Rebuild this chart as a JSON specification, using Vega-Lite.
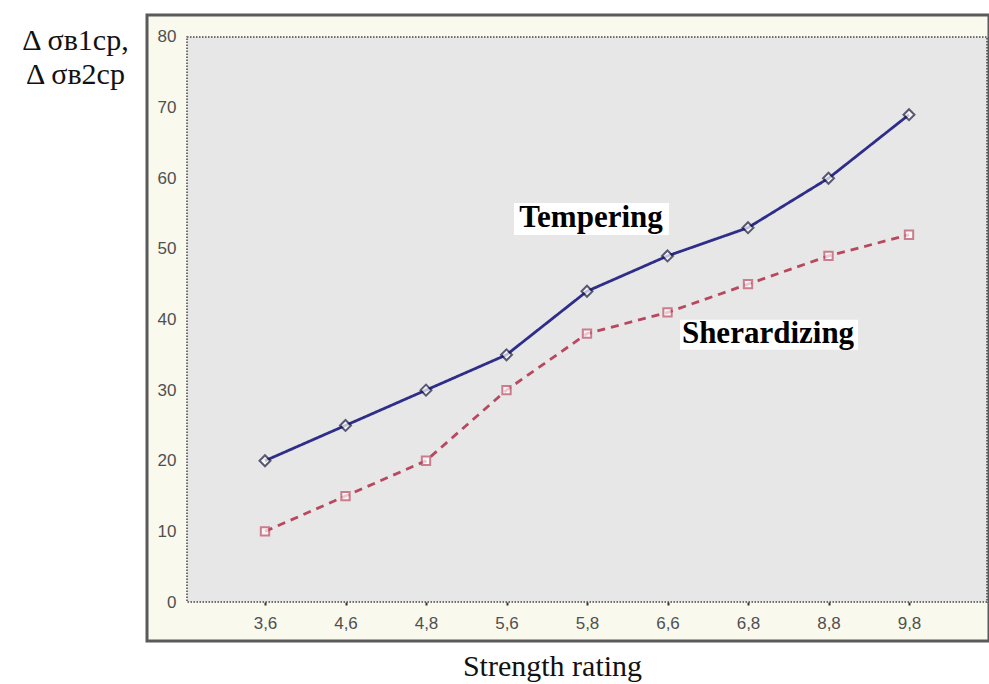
{
  "$schema": "https://vega.github.io/schema/vega-lite/v6.json",
  "autosize": {"type": "none"},
  "padding": {"left": 147, "top": 15, "right": 0, "bottom": 43},
  "width": 842,
  "height": 626,
  "background": "white",
  "config": {
    "view": {"fill": "#f9f9ee", "stroke": "#5a5a5a", "strokeWidth": 3},
    "font": "Liberation Sans"
  },
  "datasets": {
    "labels": [
      {"label": "Tempering", "rating": "5,8", "value": 53.1},
      {"label": "Sherardizing", "rating": "6,8", "value": 36.7}
    ],
    "plotarea": [
      {"first": "3,6", "last": "9,8", "low": 0, "high": 80}
    ]
  },
  "data": {
    "values": [
      {"rating": "3,6", "series": "Tempering", "value": 20},
      {"rating": "4,6", "series": "Tempering", "value": 25},
      {"rating": "4,8", "series": "Tempering", "value": 30},
      {"rating": "5,6", "series": "Tempering", "value": 35},
      {"rating": "5,8", "series": "Tempering", "value": 44},
      {"rating": "6,6", "series": "Tempering", "value": 49},
      {"rating": "6,8", "series": "Tempering", "value": 53},
      {"rating": "8,8", "series": "Tempering", "value": 60},
      {"rating": "9,8", "series": "Tempering", "value": 69},
      {"rating": "3,6", "series": "Sherardizing", "value": 10},
      {"rating": "4,6", "series": "Sherardizing", "value": 15},
      {"rating": "4,8", "series": "Sherardizing", "value": 20},
      {"rating": "5,6", "series": "Sherardizing", "value": 30},
      {"rating": "5,8", "series": "Sherardizing", "value": 38},
      {"rating": "6,6", "series": "Sherardizing", "value": 41},
      {"rating": "6,8", "series": "Sherardizing", "value": 45},
      {"rating": "8,8", "series": "Sherardizing", "value": 49},
      {"rating": "9,8", "series": "Sherardizing", "value": 52}
    ]
  },
  "encoding": {
    "x": {
      "field": "rating",
      "type": "ordinal",
      "scale": {
        "type": "point",
        "domain": ["3,6", "4,6", "4,8", "5,6", "5,8", "6,6", "6,8", "8,8", "9,8"],
        "range": [118, 762],
        "padding": 0
      },
      "axis": {
        "orient": "bottom",
        "offset": -39,
        "domain": false,
        "ticks": true,
        "tickSize": 3,
        "tickColor": "#333333",
        "tickWidth": 2,
        "labelPadding": 10,
        "labelFont": "Liberation Sans",
        "labelFontSize": 17,
        "labelColor": "#505050",
        "labelAngle": 0,
        "grid": false,
        "title": "Strength rating",
        "titleX": 405,
        "titleY": 73,
        "titleAlign": "center",
        "titleBaseline": "alphabetic",
        "titleFont": "Liberation Serif",
        "titleFontSize": 30,
        "titleFontWeight": "normal",
        "titleColor": "#111111"
      }
    },
    "y": {
      "field": "value",
      "type": "quantitative",
      "scale": {"domain": [-5.522, 83.115], "nice": false, "zero": false},
      "axis": {
        "orient": "left",
        "offset": -40,
        "values": [0, 10, 20, 30, 40, 50, 60, 70, 80],
        "domain": false,
        "ticks": false,
        "grid": false,
        "labelPadding": 11,
        "labelFont": "Liberation Sans",
        "labelFontSize": 17,
        "labelColor": "#505050",
        "title": ["Δ σв1ср,", "Δ σв2ср"],
        "titleAngle": 0,
        "titleX": -112,
        "titleY": 34,
        "titleAlign": "center",
        "titleBaseline": "alphabetic",
        "titleFont": "Liberation Serif",
        "titleFontSize": 30,
        "titleFontWeight": "normal",
        "titleColor": "#111111",
        "titleLineHeight": 34
      }
    }
  },
  "layer": [
    {
      "data": {"name": "plotarea"},
      "mark": {
        "type": "rect",
        "fill": "#e7e7e7",
        "stroke": "#444444",
        "strokeWidth": 1.5,
        "strokeDash": [1.5, 1.5],
        "xOffset": -78,
        "x2Offset": 78
      },
      "encoding": {
        "x": {"field": "first", "type": "ordinal"},
        "x2": {"field": "last"},
        "y": {"field": "low", "type": "quantitative"},
        "y2": {"field": "high"}
      }
    },
    {
      "mark": {"type": "line", "strokeWidth": 2.8},
      "encoding": {
        "color": {
          "field": "series",
          "type": "nominal",
          "scale": {"domain": ["Tempering", "Sherardizing"], "range": ["#2e2e8a", "#b8485e"]},
          "legend": null
        },
        "strokeDash": {
          "field": "series",
          "type": "nominal",
          "scale": {"domain": ["Tempering", "Sherardizing"], "range": [[1, 0], [8, 6]]},
          "legend": null
        }
      }
    },
    {
      "mark": {"type": "point", "filled": true, "fill": "white", "strokeWidth": 2},
      "encoding": {
        "stroke": {
          "field": "series",
          "type": "nominal",
          "scale": {"domain": ["Tempering", "Sherardizing"], "range": ["#1c1c40", "#c05068"]},
          "legend": null
        },
        "shape": {
          "field": "series",
          "type": "nominal",
          "scale": {"domain": ["Tempering", "Sherardizing"], "range": ["diamond", "square"]},
          "legend": null
        },
        "size": {
          "field": "series",
          "type": "nominal",
          "scale": {"domain": ["Tempering", "Sherardizing"], "range": [120, 70]},
          "legend": null
        }
      }
    },
    {
      "data": {"name": "labels"},
      "transform": [{"filter": "datum.label === 'Tempering'"}],
      "mark": {"type": "rect", "fill": "white", "xOffset": -73, "x2Offset": 82, "yOffset": 8, "y2Offset": -24},
      "encoding": {"x2": {"field": "rating"}, "y2": {"field": "value"}}
    },
    {
      "data": {"name": "labels"},
      "transform": [{"filter": "datum.label === 'Sherardizing'"}],
      "mark": {"type": "rect", "fill": "white", "xOffset": -68, "x2Offset": 110, "yOffset": 7, "y2Offset": -23},
      "encoding": {"x2": {"field": "rating"}, "y2": {"field": "value"}}
    },
    {
      "data": {"name": "labels"},
      "transform": [{"filter": "datum.label === 'Tempering'"}],
      "mark": {"type": "text", "font": "Liberation Serif", "fontWeight": "bold", "fontSize": 31, "align": "center", "baseline": "alphabetic", "dx": 4, "color": "#000000"},
      "encoding": {"text": {"field": "label"}}
    },
    {
      "data": {"name": "labels"},
      "transform": [{"filter": "datum.label === 'Sherardizing'"}],
      "mark": {"type": "text", "font": "Liberation Serif", "fontWeight": "bold", "fontSize": 31, "align": "center", "baseline": "alphabetic", "dx": 20, "color": "#000000"},
      "encoding": {"text": {"field": "label"}}
    }
  ]
}
